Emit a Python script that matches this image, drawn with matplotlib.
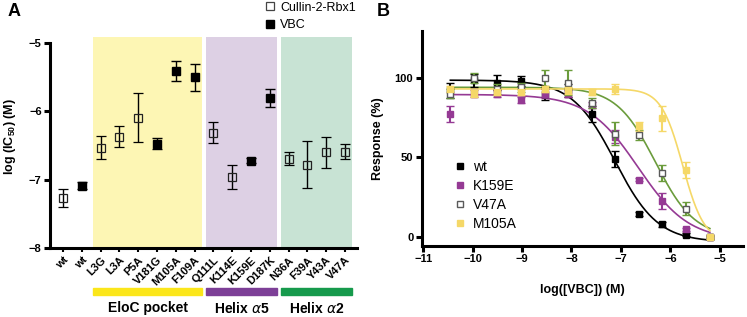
"""Two-panel figure: IC50 of mutants (A) and VBC dose-response curves (B)."""

import matplotlib

matplotlib.use("Agg")
import matplotlib.pyplot as plt
import matplotlib.transforms as mtransforms
import numpy as np
from matplotlib.lines import Line2D
from matplotlib.patches import Rectangle

plt.rcParams["font.family"] = ["Liberation Sans", "DejaVu Sans"]
plt.rcParams["mathtext.fontset"] = "custom"
plt.rcParams["mathtext.rm"] = "Liberation Sans"
plt.rcParams["mathtext.bf"] = "Liberation Sans:bold"

nan = np.nan

# ---- panel A data ----
labels_a = ["wt", "wt", "L3G", "L3A", "P5A", "V181G", "M105A", "F109A",
            "Q111L", "K114E", "K159E", "D187K", "N36A", "F39A", "Y43A", "V47A"]
cullin_vals = [-7.27, nan, -6.53, -6.37, -6.09, nan, nan, nan,
               -6.31, -6.96, nan, nan, -6.69, -6.78, -6.60, -6.59]
cullin_err = [0.13, nan, 0.17, 0.15, 0.36, nan, nan, nan,
              0.15, 0.18, nan, nan, 0.10, 0.34, 0.23, 0.11]
vbc_vals = [nan, -7.09, nan, nan, nan, -6.47, -5.41, -5.50,
            nan, nan, -6.72, -5.80, nan, nan, nan, nan]
vbc_err = [nan, 0.05, nan, nan, nan, 0.08, 0.15, 0.20,
           nan, nan, 0.04, 0.13, nan, nan, nan, nan]

group_names = ["EloC pocket", "Helix $\\alpha$5", "Helix $\\alpha$2"]
group_first = ["L3G", "Q111L", "N36A"]
group_last = ["F109A", "D187K", "V47A"]
group_shade = ["#fdf6b4", "#ddd0e4", "#c8e3d4"]
group_bar = ["#fbe61a", "#7d3f97", "#169a4c"]

# ---- panel B data ----
log_vbc = [-10.45, -9.97, -9.50, -9.02, -8.54, -8.07,
           -7.59, -7.11, -6.63, -6.16, -5.68, -5.20]
resp_wt = [92, 98.5, 97, 98, 90, 92, 77, 49, 14.5, 8, 1.5, 0]
err_wt = [5, 4, 5, 3, 4, 4, 5, 5, 1.5, 1.5, 1, 1]
resp_k159e = [77, 90, 90, 86, 90, 90, 83, 63, 36, 23, 5, 0]
err_k159e = [5, 2, 2, 2, 3, 2, 2, 4, 1, 5, 1, 1]
resp_v47a = [90, 100, 93, 94, 100, 97, 84, 65, 64, 40, 18, 0]
err_v47a = [3, 3, 3, 3, 5, 8, 3, 7, 3, 5, 4, 1]
resp_m105a = [93, 90, 91, 91, 93, 92, 91, 93, 69.5, 74.5, 42, 0]
err_m105a = [2, 2, 2, 2, 2, 2, 2, 3, 3, 8, 5, 1]

series_names = ["wt", "K159E", "V47A", "M105A"]
# four-parameter logistic fit: top, bottom, logIC50, hill
fit_top = [98.5, 89.5, 94, 93]
fit_bottom = [-3, -2, 0, -3]
fit_logic50 = [-7.12, -6.65, -6.30, -5.75]
fit_hill = [1.0, 0.85, 1.1, 2.0]


def bold_ticks(ax, size):
    for t in ax.get_xticklabels() + ax.get_yticklabels():
        t.set_fontweight("bold")
        t.set_fontsize(size)


fig = plt.figure(figsize=(7.47, 3.17), dpi=100)

# ================= panel A =================
axa = fig.add_axes([50 / 747, 1 - 248 / 317, 307 / 747, 211 / 317])
pos = np.arange(len(labels_a))

for name, first, last, shade, bar in zip(group_names, group_first, group_last,
                                         group_shade, group_bar):
    i0 = labels_a.index(first)
    i1 = labels_a.index(last)
    axa.axvspan(i0 - 0.38, i1 + 0.38, color=shade, zorder=0, lw=0)
    trans = mtransforms.blended_transform_factory(axa.transData, axa.transAxes)
    axa.add_patch(Rectangle((i0 - 0.38, -0.225), i1 - i0 + 0.76, 0.037,
                            transform=trans, color=bar, clip_on=False))
    axa.text((i0 + i1) / 2, -0.285, name, transform=trans, ha="center",
             va="center", fontsize=10, fontweight="bold")

axa.errorbar(pos, cullin_vals, yerr=cullin_err, fmt="s", ms=6, mfc="none",
             mec="#222222", mew=0.9, ecolor="black", elinewidth=1, capsize=3.5,
             capthick=1, zorder=3)
axa.errorbar(pos, vbc_vals, yerr=vbc_err, fmt="s", ms=6, mfc="black",
             mec="black", ecolor="black", elinewidth=1, capsize=3.5,
             capthick=1, zorder=3)

axa.set_xlim(-0.69, 15.64)
axa.set_ylim(-8, -4.91)
axa.set_yticks([-8, -7, -6, -5])
axa.set_xticks(pos)
axa.set_xticklabels(labels_a, rotation=45, ha="right", rotation_mode="anchor")
axa.spines[["top", "right"]].set_visible(False)
axa.spines["left"].set_bounds(-8, -5)
for s in ("left", "bottom"):
    axa.spines[s].set_linewidth(2.2)
axa.tick_params(axis="y", length=4, width=2.2, pad=2)
axa.tick_params(axis="x", length=3, width=1.5, pad=2)
bold_ticks(axa, 8)
axa.set_ylabel("log (IC$_{\\mathbf{50}}$) (M)", fontsize=9, fontweight="bold")
axa.yaxis.set_label_coords(-0.104, 0.526)

leg_a = [Line2D([], [], ls="none", marker="s", ms=6, mfc="none",
                mec="#444444", mew=0.9, label="Cullin-2-Rbx1"),
         Line2D([], [], ls="none", marker="s", ms=6, mfc="black",
                mec="black", label="VBC")]
fig.legend(handles=leg_a, loc="upper left", bbox_to_anchor=(260 / 747, 1.01),
           frameon=False, fontsize=9, handlelength=0.8, handletextpad=0.4,
           labelspacing=0.45, borderaxespad=0)

# ================= panel B =================
axb = fig.add_axes([421.7 / 747, 1 - 246 / 317, 321.3 / 747, 215 / 317])
resp = [resp_wt, resp_k159e, resp_v47a, resp_m105a]
errs = [err_wt, err_k159e, err_v47a, err_m105a]
line_colors = ["black", "#953a94", "#6b9c3c", "#f5d868"]
face_colors = ["black", "#953a94", "white", "#f5d868"]
edge_colors = ["black", "#953a94", "#5a5a5a", "#f5d868"]

xfit = np.linspace(log_vbc[0], log_vbc[-1], 300)
for k in [3, 1, 2, 0]:
    yfit = fit_bottom[k] + (fit_top[k] - fit_bottom[k]) / (
        1 + 10 ** (fit_hill[k] * (xfit - fit_logic50[k])))
    axb.plot(xfit, yfit, color=line_colors[k], lw=1.2, zorder=2 + k * 0.1)
    axb.errorbar(log_vbc, resp[k], yerr=errs[k], fmt="s", ms=4.5,
                 mfc=face_colors[k], mec=edge_colors[k], mew=1,
                 ecolor=line_colors[k], elinewidth=1.5, capsize=3,
                 capthick=1.5, zorder=3 + k * 0.1)

axb.set_xlim(-11.03, -4.53)
axb.set_ylim(-5.5, 129.3)
axb.set_xticks([-11, -10, -9, -8, -7, -6, -5])
axb.set_yticks([0, 50, 100])
axb.spines[["top", "right"]].set_visible(False)
for s in ("left", "bottom"):
    axb.spines[s].set_linewidth(2.2)
axb.tick_params(length=4, width=2.2, pad=2)
bold_ticks(axb, 8)
axb.set_xlabel("log([VBC]) (M)", fontsize=9, fontweight="bold", labelpad=14)
axb.set_ylabel("Response (%)", fontsize=9, fontweight="bold", labelpad=8)

leg_b = [Line2D([], [], ls="none", marker="s", ms=4.5, mfc=f, mec=e, mew=1,
                label=n)
         for n, f, e in zip(series_names, face_colors, edge_colors)]
axb.legend(handles=leg_b, loc="upper left", bbox_to_anchor=(0.085, 0.425),
           frameon=False, fontsize=10, handlelength=0.8, handletextpad=0.5,
           labelspacing=0.35, borderaxespad=0)

fig.text(8 / 747, 1 - 12 / 317, "A", fontsize=13, fontweight="bold",
         va="center", ha="left")
fig.text(377 / 747, 1 - 12 / 317, "B", fontsize=13, fontweight="bold",
         va="center", ha="left")

fig.savefig("out.png", dpi=100)
